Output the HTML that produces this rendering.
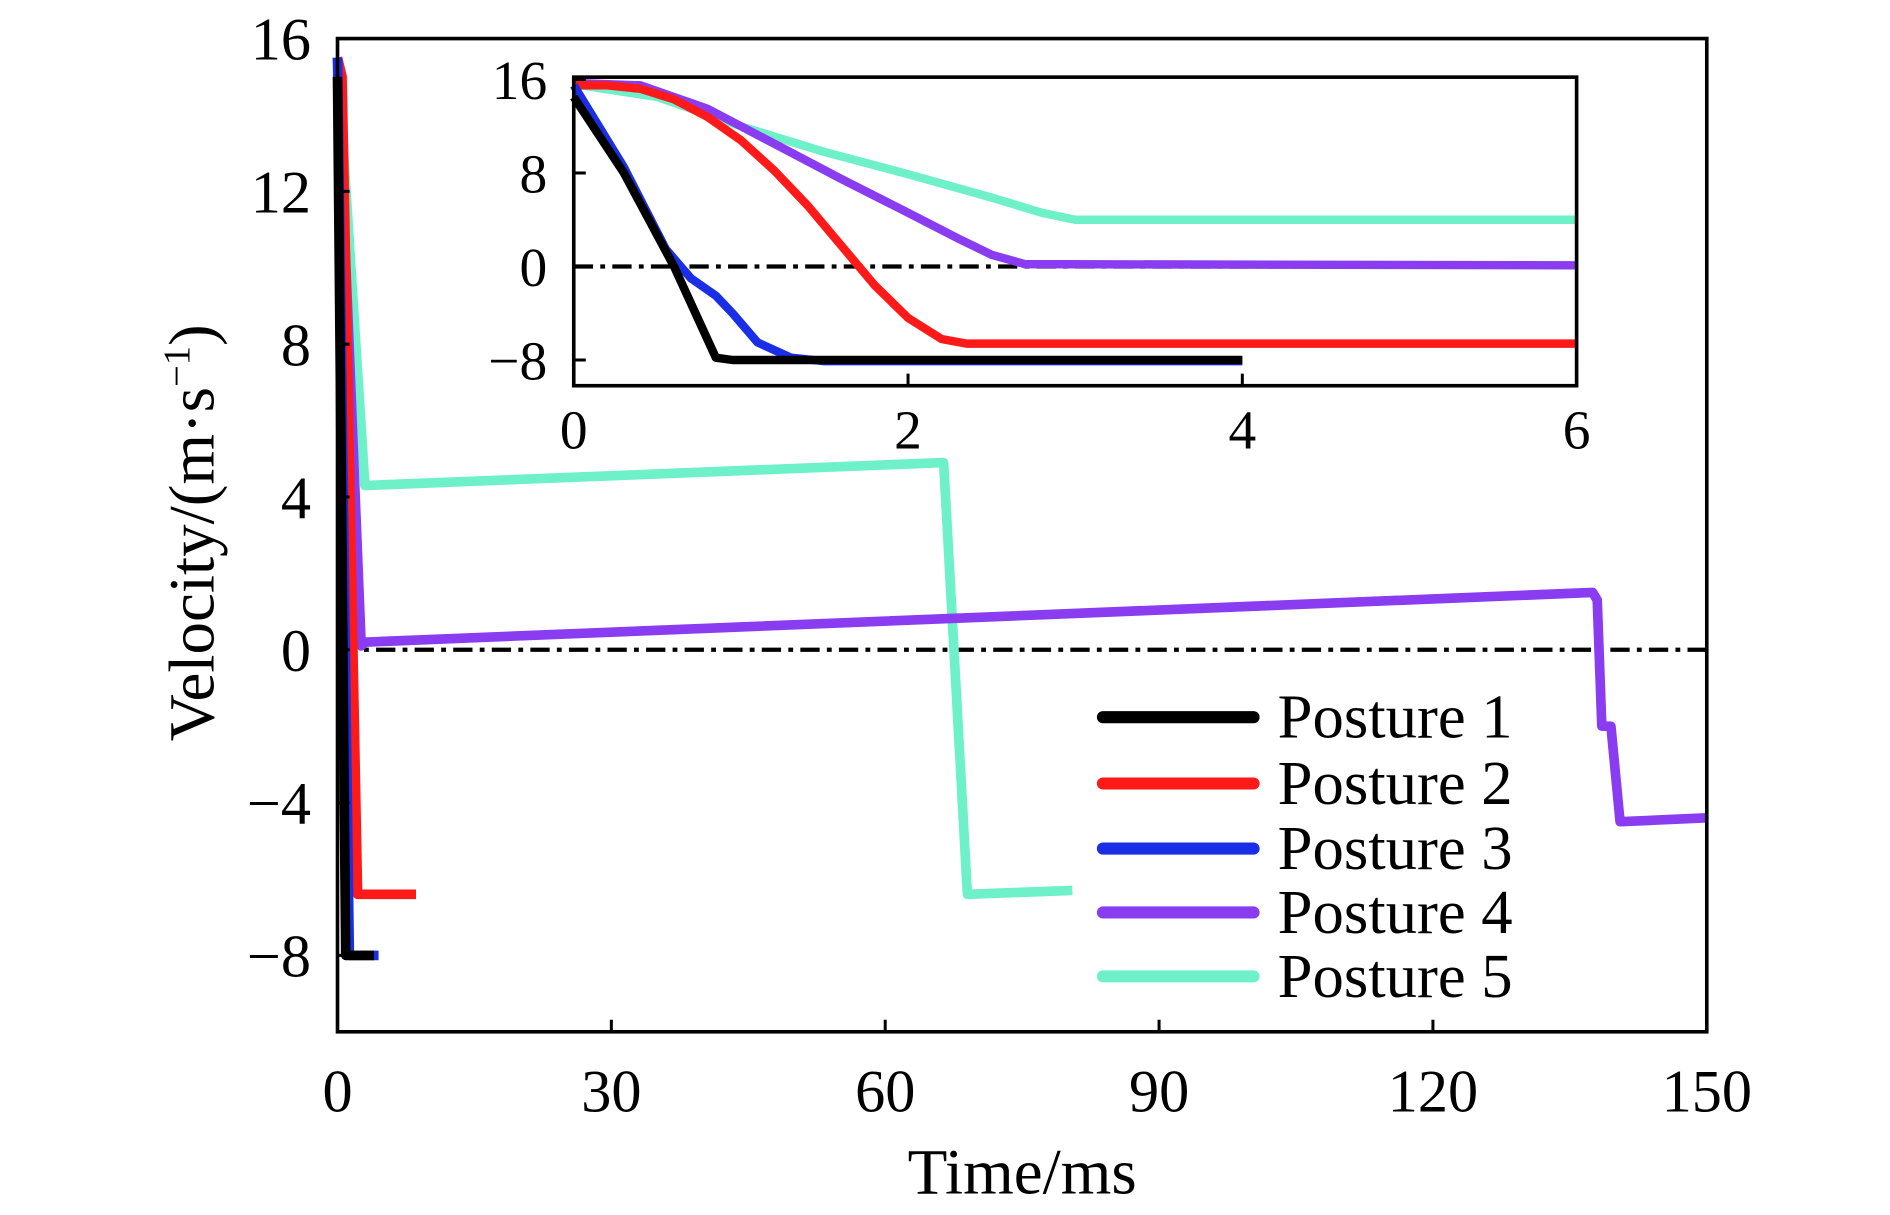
<!DOCTYPE html>
<html><head><meta charset="utf-8"><style>
html,body{margin:0;padding:0;background:#fff;}
svg{display:block;}
text{font-family:"Liberation Serif",serif;fill:#000;}
</style></head><body>
<svg id="chart" width="1890" height="1215" viewBox="0 0 1568 1008" preserveAspectRatio="none" xmlns="http://www.w3.org/2000/svg">
<rect x="0" y="0" width="1568" height="1008" fill="#fff"/>
<g id="main"></g>
<g id="inset"></g>
<g id="legend"></g>
<text x="848" y="990" font-size="54" text-anchor="middle">Time/ms</text>
<text transform="translate(177,442) rotate(-90)" font-size="54" text-anchor="middle">Velocity/(m·s<tspan font-size="32" dy="-20">−1</tspan><tspan dy="20">)</tspan></text>
</svg>
<script>
const colors = ["#000000","#ff1a1a","#1a2ee6","#8a3cf0","#6ef0c8"];
const names = ["Posture 1","Posture 2","Posture 3","Posture 4","Posture 5"];
const mainXTicks = [0,30,60,90,120,150];
const mainYTicks = [-8,-4,0,4,8,12,16];
const insetXTicks = [0,2,4,6];
const insetYTicks = [-8,0,8,16];
const mainT1 = [0,0.9,4]; const mainV1 = [15,-8,-8];
const mainT2 = [0,0.5,2.2,8.6]; const mainV2 = [15.5,15,-6.4,-6.4];
const mainT3 = [0,1.3,4.5]; const mainV3 = [15.5,-8,-8];
const mainT4 = [0,2.6,3,137.5,138,138.5,139.5,140.5,150]; const mainV4 = [15.5,0.1,0.2,1.5,1.3,-2,-2,-4.5,-4.4];
const mainT5 = [0,3,66.4,67.3,69,80.5]; const mainV5 = [15.5,4.3,4.9,1,-6.4,-6.3];
const inT1 = [0,0.3,0.6,0.85,0.95,4]; const inV1 = [14.5,8,0,-7.8,-8,-8];
const inT2 = [0,0.2,0.4,0.6,0.8,1,1.2,1.4,1.6,1.8,2,2.2,2.35,6]; const inV2 = [15.5,15.5,15.2,14.3,12.8,10.8,8.2,5.2,1.8,-1.6,-4.4,-6.2,-6.6,-6.6];
const inT3 = [0,0.3,0.55,0.7,0.85,0.95,1.1,1.3,1.5,4]; const inV3 = [15.5,8.5,1.5,-1,-2.5,-4,-6.5,-7.8,-8.1,-8.1];
const inT4 = [0,0.4,0.8,1.2,1.6,2,2.3,2.5,2.7,6]; const inV4 = [15.7,15.5,13.5,10.5,7.5,4.6,2.4,1,0.2,0.1];
const inT5 = [0,0.5,1,1.5,2,2.5,2.8,3,6]; const inV5 = [15.6,14.5,12,9.8,7.9,5.9,4.6,4,4];
const mainT=[mainT1,mainT2,mainT3,mainT4,mainT5], mainV=[mainV1,mainV2,mainV3,mainV4,mainV5];
const inT=[inT1,inT2,inT3,inT4,inT5], inV=[inV1,inV2,inV3,inV4,inV5];
const NS="http://www.w3.org/2000/svg";
function mk(tag,attrs,parent){const e=document.createElementNS(NS,tag);for(const k in attrs)e.setAttribute(k,attrs[k]);parent.appendChild(e);return e;}
function drawPanel(g,X0,X1,Y0,Y1,xMin,xMax,yMin,yMax,xt,yt,fs,xoff,lw,order,T,V,pre){
  const xm=v=>X0+(v-xMin)/(xMax-xMin)*(X1-X0);
  const ym=v=>Y1-(v-yMin)/(yMax-yMin)*(Y1-Y0);
  const z=mk('line',{x1:X0,x2:X1,y1:ym(0),y2:ym(0),stroke:'#000','stroke-width':3.5,'stroke-dasharray':'16,6,4,6'},g);
  
  for(const i of order){
    const p=mk('polyline',{points:T[i].map((t,j)=>xm(t)+','+ym(V[i][j])).join(' '),fill:'none',stroke:colors[i],'stroke-width':lw,'stroke-linejoin':'round'},g);
    
    
  }
  const fr=mk('rect',{x:X0,y:Y0,width:X1-X0,height:Y1-Y0,fill:'none',stroke:'#000','stroke-width':3},g);
  
  for(const t of xt){
    mk('line',{x1:xm(t),x2:xm(t),y1:Y1,y2:Y1-10,stroke:'#000','stroke-width':2.5},g);
    const tx=mk('text',{x:xm(t),y:Y1+xoff,'font-size':fs,'text-anchor':'middle'},g);tx.textContent=t;
    
  }
  for(const t of yt){
    mk('line',{x1:X0,x2:X0+10,y1:ym(t),y2:ym(t),stroke:'#000','stroke-width':2.5},g);
    const tx=mk('text',{x:X0-22,y:ym(t)+fs*0.35,'font-size':fs,'text-anchor':'end'},g);tx.textContent=(t<0?'−'+(-t):t);
    
  }
}
const gm=document.getElementById('main');

drawPanel(gm,280,1416,32,856,0,150,-10,16,mainXTicks,mainYTicks,50,66,8,[4,3,1,2,0],mainT,mainV,'main-');
const gi=document.getElementById('inset');

mk('rect',{x:476,y:64,width:832,height:256,fill:'#fff'},gi);
drawPanel(gi,476,1308,64,320,0,6,-10.2,16.2,insetXTicks,insetYTicks,46,52,7,[4,3,1,2,0],inT,inV,'inset-');
const gl=document.getElementById('legend');

const ly=[595,650,704,757,810];
for(let i=0;i<5;i++){
  const e=mk('g',{},gl);
  
  
  mk('line',{x1:915,x2:1040,y1:ly[i],y2:ly[i],stroke:colors[i],'stroke-width':10,'stroke-linecap':'round'},e);
  const t=mk('text',{x:1060,y:ly[i]+17,'font-size':52},e);t.textContent=names[i];
}
</script>
</body></html>
